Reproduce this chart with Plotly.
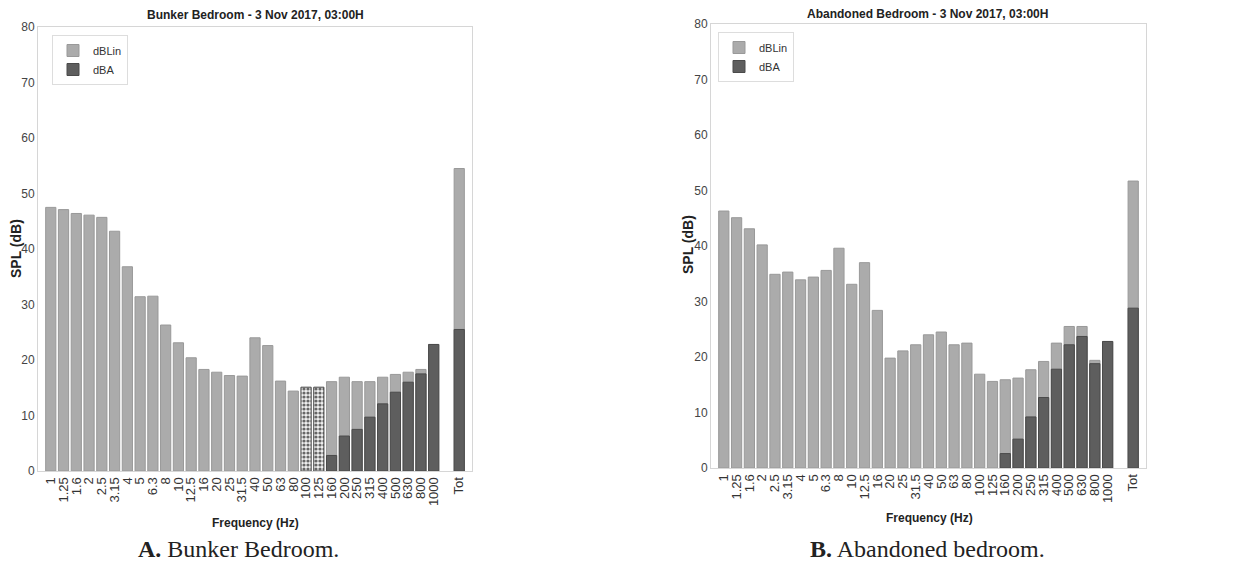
import plotly.graph_objects as go

W, H = 1241, 581
OFF = 8  # the page body adds an 8px margin; positions below are reference pixels

bands = ["1", "1.25", "1.6", "2", "2.5", "3.15", "4", "5", "6.3", "8", "10", "12.5",
         "16", "20", "25", "31.5", "40", "50", "63", "80", "100", "125", "160", "200",
         "250", "315", "400", "500", "630", "800", "1000", "", "Tot"]

bunker_lin = [47.5, 47.1, 46.4, 46.1, 45.7, 43.2, 36.8, 31.4, 31.5, 26.3, 23.1, 20.4,
              18.3, 17.8, 17.2, 17.1, 24.0, 22.6, 16.2, 14.4, 15.1, 15.1, 16.1, 16.9,
              16.1, 16.1, 16.9, 17.4, 17.8, 18.3, 22.8, None, 54.5]
bunker_a = [None] * 22 + [2.8, 6.3, 7.5, 9.7, 12.1, 14.2, 16.0, 17.5, 22.8, None, 25.5]

aband_lin = [46.3, 45.1, 43.1, 40.2, 34.9, 35.3, 33.9, 34.4, 35.6, 39.6, 33.1, 37.0,
             28.4, 19.8, 21.1, 22.2, 24.0, 24.5, 22.2, 22.5, 16.9, 15.6, 15.9, 16.2,
             17.7, 19.2, 22.5, 25.5, 25.5, 19.4, 22.8, None, 51.7]
aband_a = [None] * 22 + [2.6, 5.2, 9.2, 12.7, 17.8, 22.2, 23.7, 18.8, 22.8, None, 28.8]

titles = ["Bunker Bedroom - 3 Nov 2017, 03:00H", "Abandoned Bedroom - 3 Nov 2017, 03:00H"]
captions = ["<b>A.</b> Bunker Bedroom.", "<b>B.</b> Abandoned bedroom."]
hatched = [["100", "125"], []]

LIGHT = "#ababab"
DARK = "#5e5e5e"


def px(x):
    return (x - OFF) / W


def py(y):
    return (H - (y - OFF)) / H


# pixel geometry of the two panels: (left, right, top, bottom)
panels = [(38, 472, 27, 471), (711, 1146, 24, 468)]

fig = go.Figure()
idx = list(range(len(bands)))
datasets = [(bunker_lin, bunker_a), (aband_lin, aband_a)]

for p, (lin, a) in enumerate(datasets):
    xa = "x" if p == 0 else "x2"
    ya = "y" if p == 0 else "y2"
    lg = "legend" if p == 0 else "legend2"
    shapes_pat = ["." if b in hatched[p] else "" for b in bands]
    line_cols = ["#444444" if b in hatched[p] else "#999999" for b in bands]
    fig.add_trace(go.Bar(
        x=idx, y=lin, name="dBLin", xaxis=xa, yaxis=ya, legend=lg, width=0.8,
        marker=dict(color=LIGHT, line=dict(color=line_cols, width=1),
                    pattern=dict(shape=shapes_pat, fgcolor="#666666", bgcolor="#f0f0f0",
                                 size=4, solidity=0.5, fillmode="replace")),
    ))
    fig.add_trace(go.Bar(
        x=idx, y=a, name="dBA", xaxis=xa, yaxis=ya, legend=lg, width=0.8,
        marker=dict(color=DARK, line=dict(color="#4a4a4a", width=1)),
    ))

axis_common = dict(showgrid=False, zeroline=False, showline=True, linecolor="#d6d6d6",
                   linewidth=1, mirror=True, ticks="", automargin=False)
for p, (l, r, t, b) in enumerate(panels):
    sfx = "" if p == 0 else "2"
    xd = [px(l), min(px(r), 1.0)]
    yd = [py(b), py(t)]
    fig.update_layout(**{
        f"xaxis{sfx}": dict(domain=xd, range=[-1, 33], tickmode="array", tickvals=idx,
                            ticktext=bands, tickangle=-90,
                            tickfont=dict(family="Liberation Sans", size=13, color="#333333"),
                            anchor="y" + sfx, **axis_common),
        f"yaxis{sfx}": dict(domain=yd, range=[0, 80], tickmode="array",
                            tickvals=list(range(0, 81, 10)),
                            tickfont=dict(family="Liberation Sans", size=12, color="#444444"),
                            anchor="x" + sfx, **axis_common),
    })

legend_style = dict(bgcolor="rgba(255,255,255,0)", bordercolor="#dddddd", borderwidth=1,
                    font=dict(family="Liberation Sans", size=11, color="#333333"),
                    xanchor="left", yanchor="top", tracegroupgap=0, itemwidth=30)
fig.update_layout(
    legend=dict(x=px(52), y=py(35), **legend_style),
    legend2=dict(x=px(718), y=py(32), **legend_style),
)

ann = []
common_ann = dict(xref="paper", yref="paper", showarrow=False, xanchor="center", yanchor="middle")
title_pos = [(255, 15), (927, 14)]
for (tx, ty), t in zip(title_pos, titles):
    ann.append(dict(x=px(tx), y=py(ty), text=f"<b>{t}</b>", borderpad=0,
                    font=dict(family="Liberation Sans", size=12, color="#222222"), **common_ann))
ylab_pos = [(16, 249), (688, 245)]
for tx, ty in ylab_pos:
    ann.append(dict(x=px(tx), y=py(ty), text="<b>SPL (dB)</b>", textangle=-90, borderpad=0,
                    font=dict(family="Liberation Sans", size=14, color="#222222"), **common_ann))
xlab_pos = [(255, 523), (929, 518)]
for tx, ty in xlab_pos:
    ann.append(dict(x=px(tx), y=py(ty), text="<b>Frequency (Hz)</b>",
                    font=dict(family="Liberation Sans", size=12, color="#222222"), **common_ann))
cap_pos = [(238, 549), (927, 549)]
for (tx, ty), c in zip(cap_pos, captions):
    ann.append(dict(x=px(tx), y=py(ty), text=c,
                    font=dict(family="Liberation Serif", size=24, color="#222222"), **common_ann))

fig.update_layout(
    template="none",
    width=W, height=H, margin=dict(l=0, r=0, t=0, b=0),
    paper_bgcolor="white", plot_bgcolor="white", barmode="overlay",
    annotations=ann, showlegend=True,
)

fig.write_html("out.html")
